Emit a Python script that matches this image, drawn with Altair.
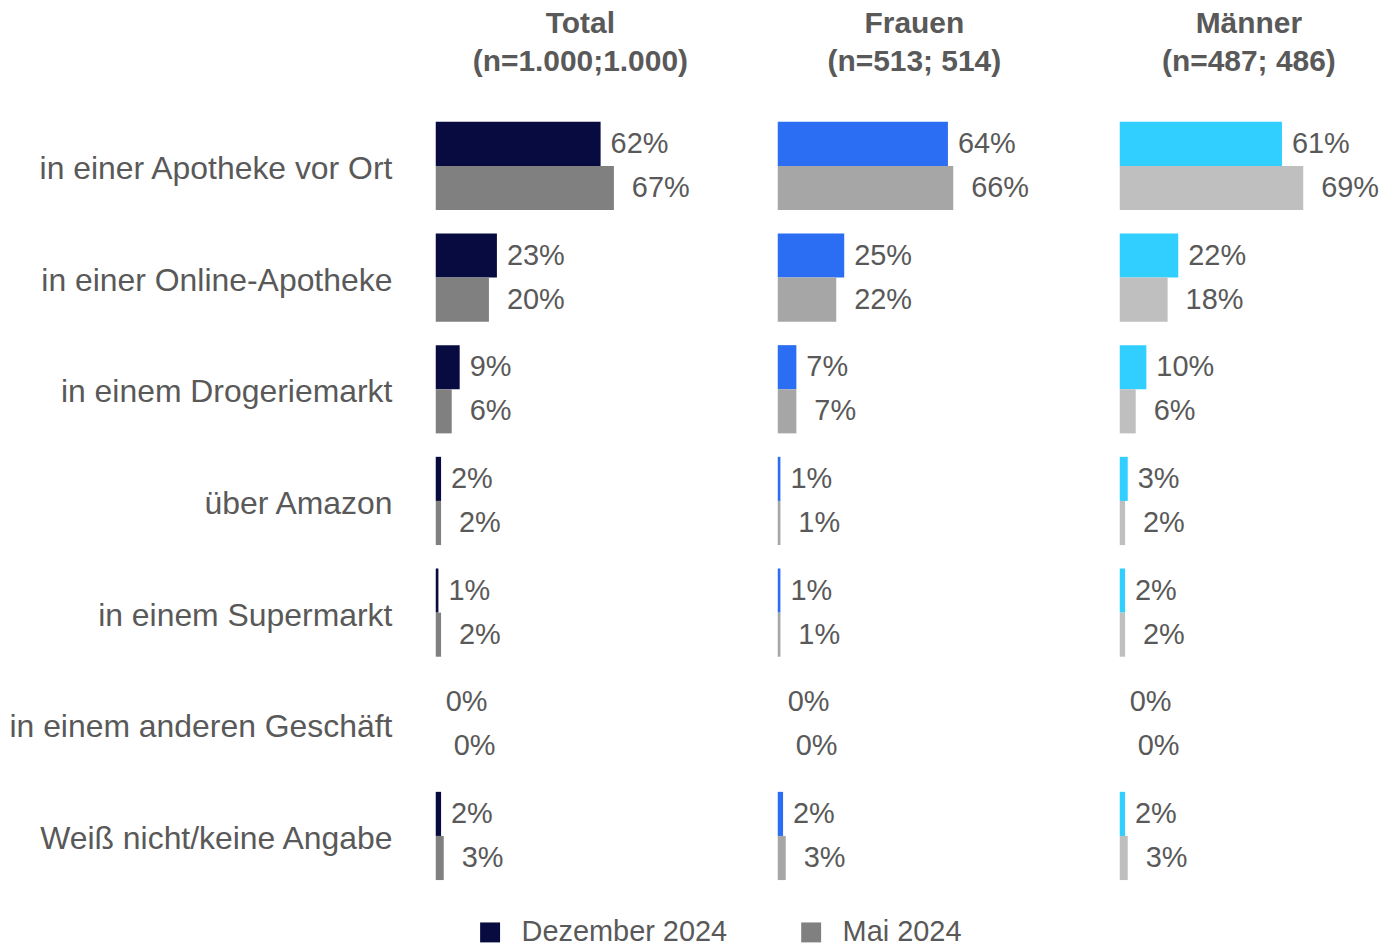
import altair as alt
import pandas as pd

categories = [
    "in einer Apotheke vor Ort",
    "in einer Online-Apotheke",
    "in einem Drogeriemarkt",
    "über Amazon",
    "in einem Supermarkt",
    "in einem anderen Geschäft",
    "Weiß nicht/keine Angabe",
]
series = ["Dezember 2024", "Mai 2024"]
panels = ["Total", "Frauen", "Männer"]
panel_titles = [
    ["Total", "(n=1.000;1.000)"],
    ["Frauen", "(n=513; 514)"],
    ["Männer", "(n=487; 486)"],
]

total_dez = [62, 23, 9, 2, 1, 0, 2]
total_mai = [67, 20, 6, 2, 2, 0, 3]
frauen_dez = [64, 25, 7, 1, 1, 0, 2]
frauen_mai = [66, 22, 7, 1, 1, 0, 3]
maenner_dez = [61, 22, 10, 3, 2, 0, 2]
maenner_mai = [69, 18, 6, 2, 2, 0, 3]

panel_colors = [
    ["#070B40", "#808080"],
    ["#2B6EF3", "#A6A6A6"],
    ["#30CFFF", "#BFBFBF"],
]

values = [(total_dez, total_mai), (frauen_dez, frauen_mai), (maenner_dez, maenner_mai)]

rows = []
for p, (dez, mai) in zip(panels, values):
    for c, d, m in zip(categories, dez, mai):
        rows.append({"Panel": p, "Kategorie": c, "Serie": series[0], "Wert": d, "Label": f"{d}%"})
        rows.append({"Panel": p, "Kategorie": c, "Serie": series[1], "Wert": m, "Label": f"{m}%"})
df = pd.DataFrame(rows)

FONT = "Liberation Sans"
TXT = "#595959"
PX_PER_PCT = 2.6667


def make_panel(idx, width, title_dx):
    name = panels[idx]
    base = alt.Chart(df).transform_filter(alt.datum.Panel == name)
    if idx == 0:
        yaxis = alt.Axis(
            domain=False, ticks=False, labelPadding=44, labelFontSize=32,
            labelColor=TXT, labelFont=FONT, labelLimit=600, labelOffset=3, title=None,
        )
        legend = alt.Legend(
            orient="none", legendX=40, legendY=810, direction="horizontal",
            title=None, symbolType="square", symbolSize=400, symbolStrokeWidth=0,
            labelFontSize=29, labelFont=FONT, labelColor=TXT, labelOffset=17,
            labelLimit=400, columnPadding=69,
        )
    else:
        yaxis = None
        legend = None
    y = alt.Y(
        "Kategorie:N", sort=categories,
        scale=alt.Scale(paddingInner=0.21, paddingOuter=0.105),
        axis=yaxis, title=None,
    )
    x = alt.X("Wert:Q", scale=alt.Scale(domain=[0, width / PX_PER_PCT], nice=False), axis=None)
    yoff = alt.YOffset("Serie:N", sort=series, scale=alt.Scale(paddingInner=0, paddingOuter=0))
    color = alt.Color(
        "Serie:N", sort=series,
        scale=alt.Scale(domain=series, range=panel_colors[idx]),
        legend=legend,
    )
    bars = base.mark_bar().encode(y=y, x=x, yOffset=yoff, color=color)
    txt_d = base.transform_filter(alt.datum.Serie == series[0]).mark_text(
        align="left", baseline="middle", dx=10, fontSize=29, font=FONT, color=TXT
    ).encode(y=y, x=x, yOffset=yoff, text="Label:N")
    txt_m = base.transform_filter(alt.datum.Serie == series[1]).mark_text(
        align="left", baseline="middle", dx=18, fontSize=29, font=FONT, color=TXT
    ).encode(y=y, x=x, yOffset=yoff, text="Label:N")
    return alt.layer(bars, txt_d, txt_m).properties(
        width=width, height=784,
        title=alt.TitleParams(
            text=panel_titles[idx], fontSize=30, font=FONT, fontWeight="bold",
            color=TXT, lineHeight=38, anchor="middle", dx=title_dx, offset=33,
        ),
    )


chart = alt.hconcat(
    make_panel(0, 270, 10),
    make_panel(1, 270, 2),
    make_panel(2, 259, 0),
    spacing=73,
    bounds="flush",
).resolve_scale(
    color="independent", x="independent", y="independent", yOffset="independent"
).resolve_legend(color="independent").configure_view(stroke=None).properties(
    padding={"left": 0, "top": 0, "right": 0, "bottom": 0}
)

chart.save("out.html", embed_options={"renderer": "svg", "actions": False})
